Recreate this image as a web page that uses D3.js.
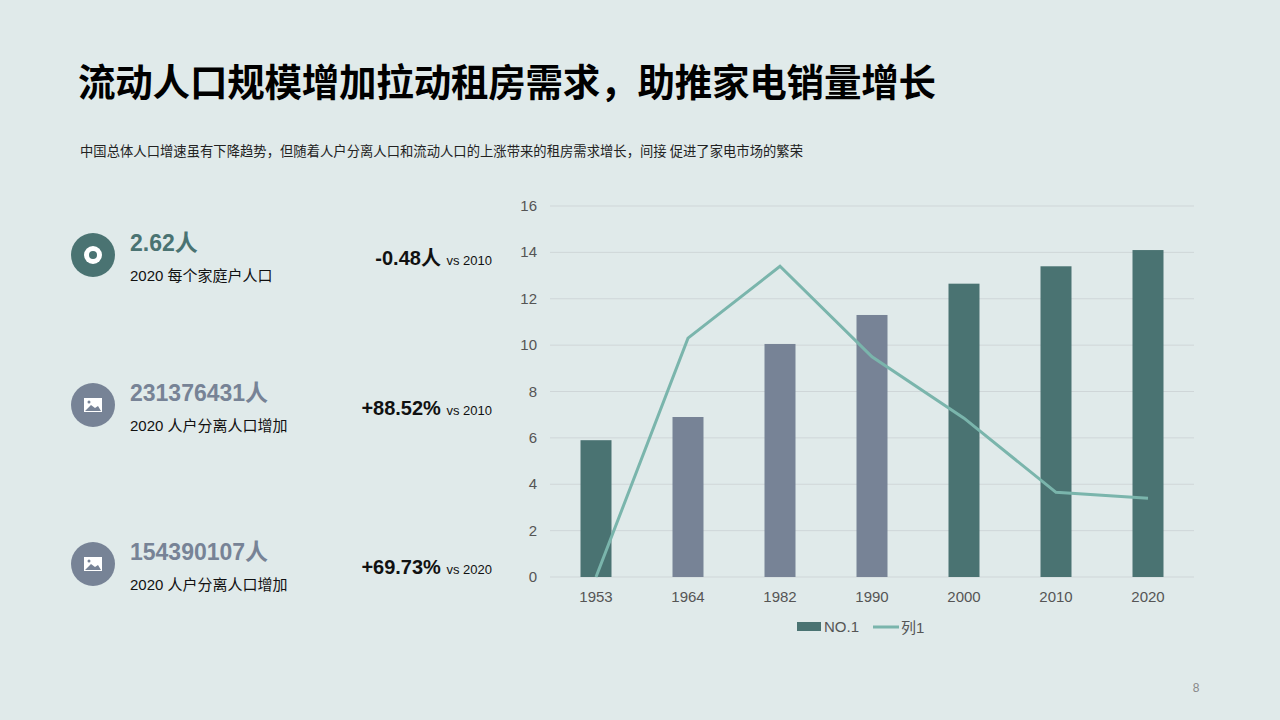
<!DOCTYPE html>
<html><head><meta charset="utf-8">
<script src="https://cdn.jsdelivr.net/npm/d3@7"></script>
<style>body{margin:0;background:#e0eaea;font-family:"Liberation Sans","Noto Sans CJK SC",sans-serif;}</style>
</head><body><svg id="c" width="1280" height="720"></svg>
<script>
const years=["1953","1964","1982","1990","2000","2010","2020"];
const barValues=[5.9,6.9,10.05,11.3,12.65,13.4,14.1];
const lineValues=[0,10.3,13.4,9.5,6.85,3.65,3.4];
const barColors=["#4a7372","#778396","#778396","#778396","#4a7372","#4a7372","#4a7372"];
const yTicks=[0,2,4,6,8,10,12,14,16];
const stats=[
 {big:"2.62人",sub:"2020 每个家庭户人口",chg:"-0.48人",vs:"vs 2010",color:"#4a7372",icon:"disc"},
 {big:"231376431人",sub:"2020 人户分离人口增加",chg:"+88.52%",vs:"vs 2010",color:"#778396",icon:"img"},
 {big:"154390107人",sub:"2020 人户分离人口增加",chg:"+69.73%",vs:"vs 2020",color:"#778396",icon:"img"}];
const svg=d3.select("#c");
const CJK='"Noto Sans CJK SC",sans-serif';
const MIX='"Liberation Sans","Noto Sans CJK SC",sans-serif';
svg.append("rect").attr("width",1280).attr("height",720).attr("fill","#e0eaea");
svg.append("text").attr("x",78).attr("y",96).attr("font-size",37.5).attr("font-weight","bold").attr("font-family",CJK).attr("fill","#000").attr("textLength",858).text("流动人口规模增加拉动租房需求，助推家电销量增长");
svg.append("text").attr("x",80).attr("y",156).attr("font-size",13.3).attr("font-family",CJK).attr("fill","#222").attr("textLength",723).text("中国总体人口增速虽有下降趋势，但随着人户分离人口和流动人口的上涨带来的租房需求增长，间接 促进了家电市场的繁荣");
svg.append("text").attr("x",1196).attr("y",692).attr("font-size",12).attr("fill","#888").attr("text-anchor","middle").text("8");
const rowY=[255,405,564];
stats.forEach((s,i)=>{
 const y=rowY[i];
 svg.append("circle").attr("cx",93).attr("cy",y).attr("r",22).attr("fill",s.color);
 if(s.icon==="disc"){
  svg.append("circle").attr("cx",93).attr("cy",y).attr("r",9).attr("fill","#fff");
  svg.append("circle").attr("cx",93).attr("cy",y).attr("r",4).attr("fill",s.color);
 } else {
  svg.append("rect").attr("x",84).attr("y",y-7).attr("width",18).attr("height",14).attr("fill","#fff");
  svg.append("path").attr("d",`M85,${y+6}L91,${y}L95,${y+3}L98,${y+1}L101,${y+6}Z`).attr("fill",s.color);
  svg.append("circle").attr("cx",89).attr("cy",y-3).attr("r",1.5).attr("fill",s.color);
 }
 svg.append("text").attr("x",130).attr("y",y-4).attr("font-size",23).attr("font-weight","bold").attr("font-family",MIX).attr("fill",s.color).text(s.big);
 svg.append("text").attr("x",130).attr("y",y+26).attr("font-size",15).attr("font-family",MIX).attr("fill","#111").text(s.sub);
 const t=svg.append("text").attr("x",492).attr("y",y+10).attr("text-anchor","end").attr("fill","#111").attr("font-family",MIX);
 t.append("tspan").attr("font-size",20).attr("font-weight","bold").text(s.chg+" ");
 t.append("tspan").attr("font-size",13).text(s.vs);
});
const x=d3.scaleBand().domain(years).range([550,1194]);
const y=d3.scaleLinear().domain([0,16]).range([577,206]);
const g=svg.append("g");
g.selectAll(".gl").data(yTicks).join("line").attr("x1",550).attr("x2",1194).attr("y1",d=>y(d)).attr("y2",d=>y(d)).attr("stroke","#cfd6d8").attr("stroke-width",1);
g.selectAll(".yt").data(yTicks).join("text").attr("x",537).attr("y",d=>y(d)+5).attr("text-anchor","end").attr("font-size",15).attr("fill","#555").text(d=>d);
g.selectAll(".xt").data(years).join("text").attr("x",d=>x(d)+x.bandwidth()/2).attr("y",602).attr("text-anchor","middle").attr("font-size",15).attr("fill","#555").text(d=>d);
const bw=31;
g.selectAll(".bar").data(years).join("rect").attr("x",d=>x(d)+x.bandwidth()/2-bw/2).attr("width",bw).attr("y",(d,i)=>y(barValues[i])).attr("height",(d,i)=>y(0)-y(barValues[i])).attr("fill",(d,i)=>barColors[i]);
const line=d3.line().x((d,i)=>x(years[i])+x.bandwidth()/2).y(d=>y(d));
g.append("path").attr("d",line(lineValues)).attr("fill","none").attr("stroke","#7ab5ac").attr("stroke-width",3);
svg.append("rect").attr("x",797).attr("y",622).attr("width",24).attr("height",9).attr("fill","#4a7372");
svg.append("text").attr("x",824).attr("y",632).attr("font-size",15).attr("fill","#555").text("NO.1");
svg.append("line").attr("x1",873).attr("x2",899).attr("y1",627).attr("y2",627).attr("stroke","#7ab5ac").attr("stroke-width",3);
svg.append("text").attr("x",901).attr("y",633).attr("font-size",15).attr("font-family",MIX).attr("fill","#555").text("列1");
</script></body></html>
